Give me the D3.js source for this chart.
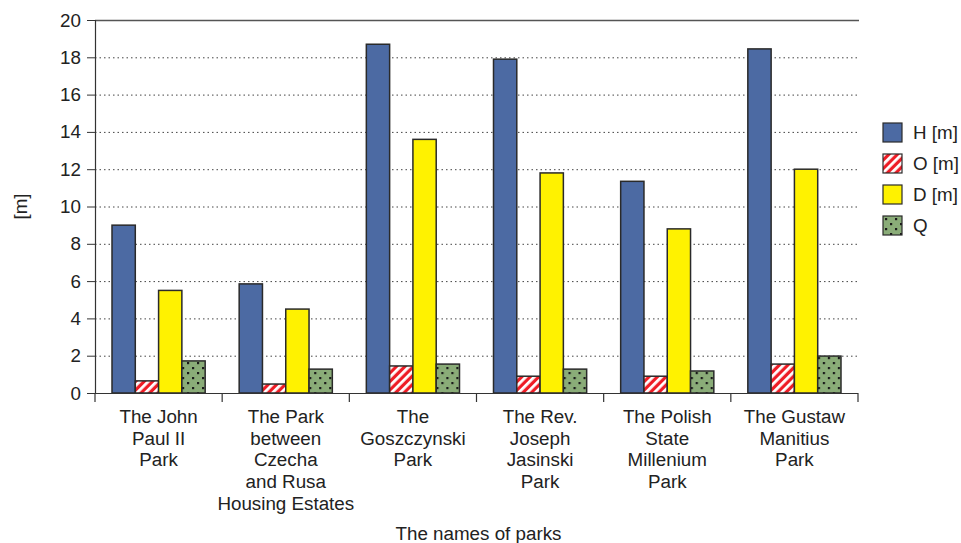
<html>
<head>
<meta charset="utf-8">
<title>Parks</title>
<style>
  body { margin: 0; background: #fff; }
  text { font-family: "Liberation Sans", Arial, sans-serif; fill: #222; }
</style>
</head>
<body>
<script src="https://cdn.jsdelivr.net/npm/d3@7"></script>
<script>
    var width = 961;
    var height = 543;

    var parks = [
        ["The John", "Paul II", "Park"],
        ["The Park", "between", "Czecha", "and Rusa", "Housing Estates"],
        ["The", "Goszczynski", "Park"],
        ["The Rev.", "Joseph", "Jasinski", "Park"],
        ["The Polish", "State", "Millenium", "Park"],
        ["The Gustaw", "Manitius", "Park"]
    ];
    var seriesNames = ["H [m]", "O [m]", "D [m]", "Q"];
    var H = [9.0, 5.85, 18.7, 17.9, 11.35, 18.45];
    var O = [0.65, 0.48, 1.45, 0.9, 0.9, 1.55];
    var D = [5.5, 4.5, 13.6, 11.8, 8.8, 12.0];
    var Q = [1.72, 1.28, 1.55, 1.28, 1.18, 1.98];
    var yTicks = [0, 2, 4, 6, 8, 10, 12, 14, 16, 18, 20];

    var values = [H, O, D, Q];
    var fills = ["#4c6aa3", "url(#stripes)", "#fff200", "url(#dots)"];

    var plotLeft = 95, plotRight = 858, plotTop = 20, plotBottom = 393;
    var fontSize = 18.8;

    var svg = d3.select("body").append("svg")
        .attr("width", width)
        .attr("height", height);

    var defs = svg.append("defs");
    var stripes = defs.append("pattern")
        .attr("id", "stripes")
        .attr("patternUnits", "userSpaceOnUse")
        .attr("width", 6).attr("height", 6)
        .attr("patternTransform", "rotate(45)");
    stripes.append("rect").attr("width", 6).attr("height", 6).attr("fill", "#ee1c25");
    stripes.append("rect").attr("x", 0).attr("width", 2.8).attr("height", 6).attr("fill", "#fff");

    // dotted fill, offset rows
    var dots = defs.append("pattern")
        .attr("id", "dots")
        .attr("patternUnits", "userSpaceOnUse")
        .attr("width", 10).attr("height", 10);
    dots.append("rect").attr("width", 10).attr("height", 10).attr("fill", "#8aac78");
    dots.append("rect").attr("x", 2).attr("y", 2).attr("width", 2.2).attr("height", 2.2).attr("fill", "#1a1a1a");
    dots.append("rect").attr("x", 7).attr("y", 7).attr("width", 2.2).attr("height", 2.2).attr("fill", "#1a1a1a");

    var x0 = d3.scaleBand()
        .domain(d3.range(parks.length))
        .range([plotLeft, plotRight]);
    var x1 = d3.scaleBand()
        .domain(d3.range(seriesNames.length))
        .range([0, x0.bandwidth()])
        .paddingInner(0)
        .paddingOuter(0.73);
    var y = d3.scaleLinear()
        .domain([0, 20])
        .range([plotBottom, plotTop]);

    // dotted grid
    svg.append("g")
        .selectAll("line")
        .data(yTicks.filter(function(d){ return d > 0 && d < 20; }))
        .enter().append("line")
        .attr("x1", plotLeft).attr("x2", plotRight)
        .attr("y1", function(d){ return y(d) + 0.5; })
        .attr("y2", function(d){ return y(d) + 0.5; })
        .attr("stroke", "#444")
        .attr("stroke-width", 1)
        .attr("stroke-dasharray", "1.5,3");

    // top line
    svg.append("line")
        .attr("x1", plotLeft).attr("x2", plotRight + 1)
        .attr("y1", y(20) + 0.5).attr("y2", y(20) + 0.5)
        .attr("stroke", "#555").attr("stroke-width", 1.5);

    // bars
    var groups = svg.append("g")
        .selectAll("g")
        .data(parks)
        .enter().append("g")
        .attr("transform", function(d, i){ return "translate(" + x0(i) + ",0)"; });
    groups.selectAll("rect")
        .data(function(d, i){ return values.map(function(s, j){ return {s: j, v: s[i]}; }); })
        .enter().append("rect")
        .attr("x", function(d){ return x1(d.s); })
        .attr("y", function(d){ return y(d.v); })
        .attr("width", x1.bandwidth())
        .attr("height", function(d){ return y(0) - y(d.v); })
        .attr("fill", function(d){ return fills[d.s]; })
        .attr("stroke", "#2a2a2a")
        .attr("stroke-width", 1.5);

    // y axis
    var yAxis = d3.axisLeft(y).tickValues(yTicks).tickSize(8).tickPadding(6);
    var gy = svg.append("g")
        .attr("transform", "translate(" + plotLeft + ",0)")
        .call(yAxis);
    gy.select(".domain").attr("stroke", "#333").attr("stroke-width", 1.2);
    gy.selectAll(".tick line").attr("stroke", "#333");
    gy.selectAll(".tick text")
        .attr("font-size", fontSize)
        .style("font-family", "Liberation Sans, Arial, sans-serif")
        .attr("fill", "#222");

    // x axis
    svg.append("line")
        .attr("x1", plotLeft).attr("x2", plotRight)
        .attr("y1", plotBottom + 0.5).attr("y2", plotBottom + 0.5)
        .attr("stroke", "#333").attr("stroke-width", 1.2);
    svg.append("g")
        .selectAll("line")
        .data(d3.range(parks.length + 1))
        .enter().append("line")
        .attr("x1", function(d){ return d < parks.length ? x0(d) : plotRight; })
        .attr("x2", function(d){ return d < parks.length ? x0(d) : plotRight; })
        .attr("y1", plotBottom).attr("y2", plotBottom + 9)
        .attr("stroke", "#333").attr("stroke-width", 1.2);

    var labels = svg.append("g")
        .selectAll("text")
        .data(parks)
        .enter().append("text")
        .attr("text-anchor", "middle")
        .attr("font-size", fontSize)
        .attr("transform", function(d, i){ return "translate(" + (x0(i) + x0.bandwidth() / 2) + ",423)"; });
    labels.selectAll("tspan")
        .data(function(d){ return d; })
        .enter().append("tspan")
        .attr("x", 0)
        .attr("dy", function(d, i){ return i === 0 ? 0 : 21.7; })
        .text(function(d){ return d; });

    // axis titles
    svg.append("text")
        .attr("x", (plotLeft + plotRight) / 2 + 2)
        .attr("y", 540)
        .attr("text-anchor", "middle")
        .attr("font-size", fontSize)
        .text("The names of parks");
    svg.append("text")
        .attr("transform", "translate(27," + ((plotTop + plotBottom) / 2) + ") rotate(-90)")
        .attr("text-anchor", "middle")
        .attr("font-size", fontSize)
        .text("[m]");

    // legend
    var legend = svg.append("g")
        .selectAll("g")
        .data(seriesNames)
        .enter().append("g")
        .attr("transform", function(d, i){ return "translate(883," + (123 + i * 31) + ")"; });
    legend.append("rect")
        .attr("width", 19).attr("height", 19)
        .attr("fill", function(d, i){ return fills[i]; })
        .attr("stroke", "#2a2a2a")
        .attr("stroke-width", 1.2);
    legend.append("text")
        .attr("x", 30).attr("y", 16)
        .attr("font-size", fontSize)
        .text(function(d){ return d; });
</script>
</body>
</html>
